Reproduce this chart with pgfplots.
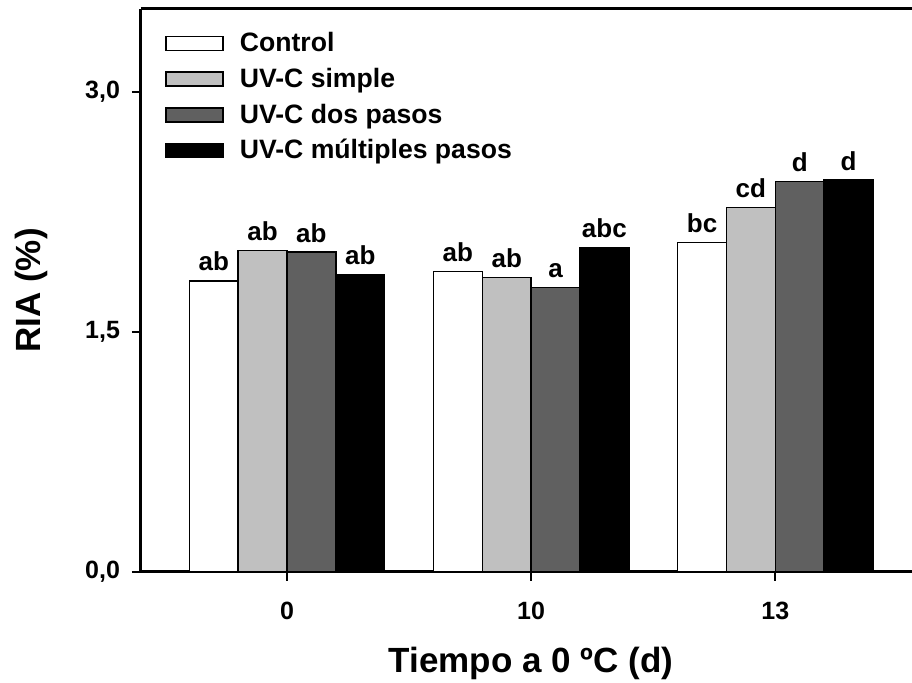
\documentclass[border=0pt]{standalone}
\usepackage{fontspec}
\setmainfont{Liberation Sans}
\usepackage{pgfplots}
\pgfplotsset{compat=1.18}

\definecolor{grisclaro}{HTML}{C0C0C0}
\definecolor{grisoscuro}{HTML}{606060}

% legend boxes as flat rectangles
\pgfplotsset{
  ybar legend/.style={legend image code/.code={
      \draw[##1, line width=0.75pt] (0pt,-3.5pt) rectangle (28.5pt,3.5pt);}},
}

\begin{document}
\begin{tikzpicture}
\useasboundingbox (-70.5pt,-55.5pt) rectangle (385.5pt,286pt);
\begin{axis}[
  at={(0,0)}, anchor=south west,
  scale only axis, width=385.5pt, height=281.5pt,
  xmin=-0.598, xmax=2.56, ymin=0, ymax=3.52,
  axis x line=box, axis y line*=left,
  axis line style={line width=1.5pt},
  ybar, bar width=0.2, bar shift=0pt,
  xtick={0,1,2}, xticklabels={0,10,13},
  ytick={0,1.5,3},
  xtick pos=left, ytick pos=left,
  tick align=outside, major tick length=4.5pt,
  tick style={line width=1.2pt, black},
  /pgf/number format/assume math mode=true,
  yticklabel style={/pgf/number format/.cd, fixed, fixed zerofill, precision=1, use comma,
    /tikz/.cd, xshift=-2.5pt},
  xticklabel style={yshift=-7pt},
  ticklabel style={font=\fontsize{12.5}{14}\selectfont\bfseries},
  xlabel={Tiempo a 0 ºC (d)},
  ylabel={RIA (\%)},
  every axis x label/.style={at={(axis cs:1,0)}, anchor=base, yshift=-50.5pt,
    font=\fontsize{17.5}{20}\selectfont\bfseries},
  every axis y label/.style={at={(axis description cs:-0.1427,0.5)}, rotate=90,
    anchor=center, font=\fontsize{17.5}{20}\selectfont\bfseries},
  point meta=explicit symbolic,
  nodes near coords,
  every node near coord/.append style={font=\fontsize{13}{15}\selectfont\bfseries,
    black, anchor=south, inner sep=0pt, yshift=4.5pt},
  legend style={draw=none, fill=none, at={(rel axis cs:0,1)}, anchor=north west,
    xshift=12pt, yshift=-9.5pt, inner sep=0pt, row sep=2.7pt,
    font=\fontsize{13.3}{15}\selectfont\bfseries,
    /tikz/every odd column/.append style={column sep=6pt}},
  legend cell align=left,
]
\addplot[fill=white, draw=black, line width=0.75pt] coordinates {
  (-0.3,1.82) [ab] (0.7,1.88) [ab] (1.7,2.06) [bc]};
\addplot[fill=grisclaro, draw=black, line width=0.75pt] coordinates {
  (-0.1,2.01) [ab] (0.9,1.84) [ab] (1.9,2.28) [cd]};
\addplot[fill=grisoscuro, draw=black, line width=0.75pt] coordinates {
  (0.1,2.00) [ab] (1.1,1.78) [a] (2.1,2.44) [d]};
\addplot[fill=black, draw=black, line width=0.75pt] coordinates {
  (0.3,1.86) [ab] (1.3,2.03) [abc] (2.3,2.45) [d]};
\legend{Control, UV-C simple, UV-C dos pasos, UV-C múltiples pasos}
\end{axis}
\end{tikzpicture}
\end{document}
